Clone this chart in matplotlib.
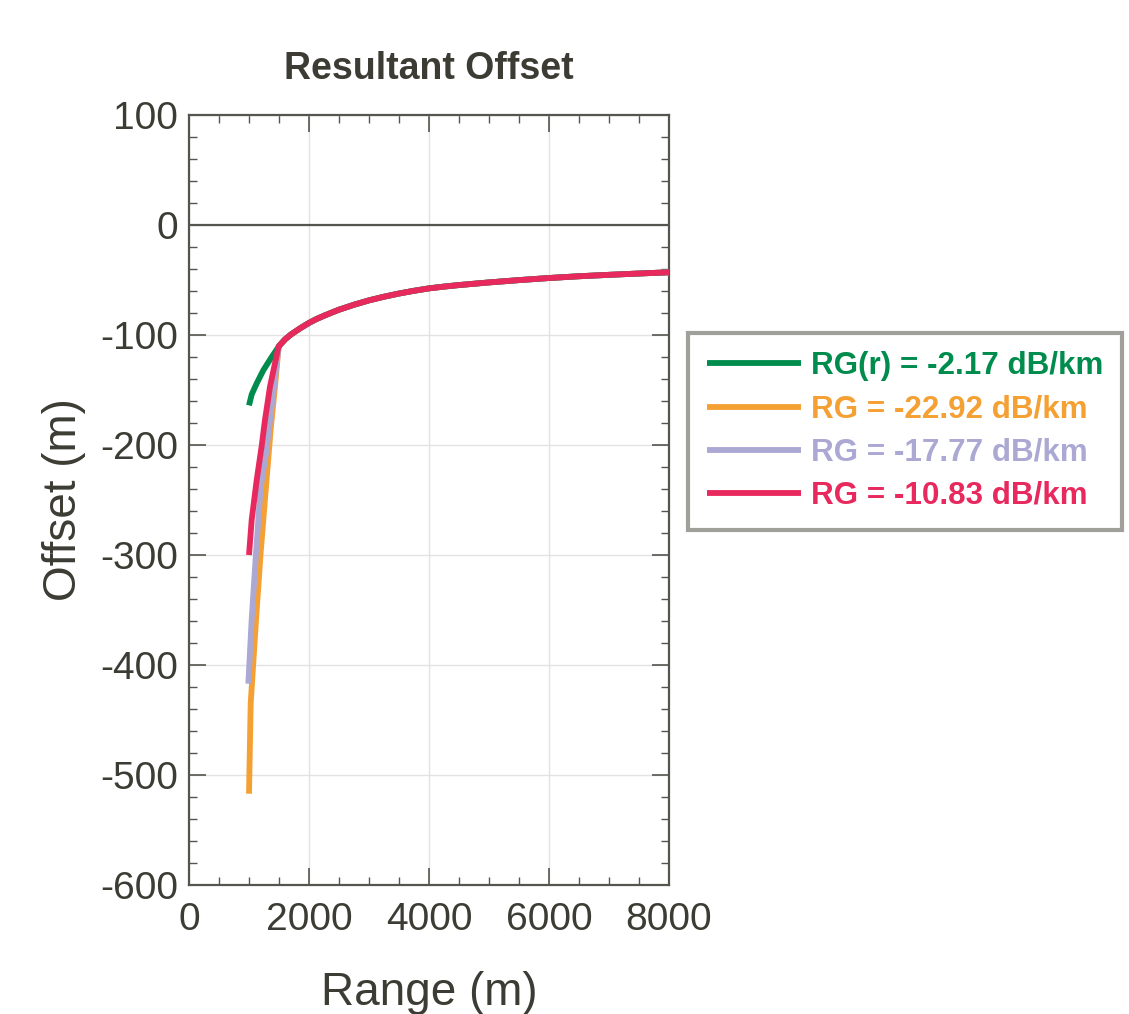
import numpy as np
import matplotlib.pyplot as plt
from matplotlib.ticker import MultipleLocator

plt.rcParams['font.family'] = ['Liberation Sans', 'DejaVu Sans']
plt.rcParams['axes.unicode_minus'] = False
txt = '#3c3c34'

# shared far-range part of the curve (all four series coincide here)
tail_range = [1500, 1550, 1600, 1700, 1850, 2000, 2125, 2250, 2375, 2500, 2750, 3000, 3250, 3500, 3750,
              4000, 4250, 4500, 5000, 5500, 6000, 6500, 7000, 7500, 8000]
tail_offset = [-110, -107, -104, -99.5, -94, -89, -85.5, -82.5, -79.7, -77, -72.5, -68.5, -65.2, -62.3, -59.8,
               -57.6, -56, -54.6, -52.2, -50.1, -48.2, -46.6, -45.3, -44.1, -43]

# near-range parts
green_range = [1000, 1045, 1128, 1239, 1378, 1490]
green_offset = [-164, -154, -144, -132, -120, -111]
orange_range = [1000, 1028, 1117, 1194, 1283, 1361, 1433, 1490]
orange_offset = [-517, -435, -359, -298, -238, -186, -147, -113]
lav_range = [989, 1044, 1117, 1194, 1283, 1350, 1417, 1490]
lav_offset = [-417, -359, -298, -238, -208, -177, -147, -113]
red_range = [1000, 1045, 1128, 1211, 1267, 1350, 1490]
red_offset = [-300, -268, -232, -201, -177, -147, -111]

labels = ['RG(r) = -2.17 dB/km', 'RG = -22.92 dB/km', 'RG = -17.77 dB/km', 'RG = -10.83 dB/km']
colors = ['#008c4c', '#f5a033', '#aba8d3', '#e8295e']

fig = plt.figure(figsize=(11.29, 10.14), dpi=100)
ax = fig.add_axes([0.1674, 0.1272, 0.4252, 0.7594])

ax.axhline(0, color='#55554f', lw=1.6, zorder=2)

series = [(green_range, green_offset), (orange_range, orange_offset),
          (lav_range, lav_offset), (red_range, red_offset)]
order = [1, 2, 0, 3]
handles = [None] * 4
for i in order:
    r, o = series[i]
    xs = list(r) + tail_range
    ys = list(o) + tail_offset
    handles[i], = ax.plot(xs, ys, color=colors[i], lw=4.2, solid_capstyle='butt',
                          solid_joinstyle='round', zorder=3 + order.index(i))

ax.set_xlim(0, 8000)
ax.set_ylim(-600, 100)
ax.xaxis.set_major_locator(MultipleLocator(2000))
ax.xaxis.set_minor_locator(MultipleLocator(500))
ax.yaxis.set_major_locator(MultipleLocator(100))
ax.yaxis.set_minor_locator(MultipleLocator(20))
ax.grid(True, which='major', color='#e2e2e2', lw=1.0, zorder=0)
ax.set_axisbelow(True)

ax.tick_params(which='both', direction='in', top=True, right=True, colors='#55554f', labelcolor=txt)
ax.tick_params(which='major', length=12, width=1.2, labelsize=28)
ax.tick_params(axis='x', which='major', pad=12)
ax.tick_params(axis='y', which='major', pad=8)
ax.tick_params(which='minor', length=6, width=1.0)
for s in ax.spines.values():
    s.set_color('#55554f')
    s.set_linewidth(1.6)

ax.set_title('Resultant Offset', fontsize=27, fontweight='bold', color=txt, pad=26)
ax.set_xlabel('Range (m)', fontsize=33, color=txt, labelpad=24)
ax.set_ylabel('Offset (m)', fontsize=33, color=txt, labelpad=10)

leg = fig.legend(handles, labels, loc='upper left', bbox_to_anchor=(0.6095, 0.672),
                 prop={'weight': 'bold', 'size': 22.6}, fancybox=False,
                 handlelength=3.0, handletextpad=0.32, labelspacing=0.42,
                 borderpad=0.6, borderaxespad=0, framealpha=1)
leg.get_frame().set_edgecolor('#a0a09a')
leg.get_frame().set_linewidth(3)
for t, c in zip(leg.get_texts(), colors):
    t.set_color(c)

fig.savefig('out.png', dpi=100)
